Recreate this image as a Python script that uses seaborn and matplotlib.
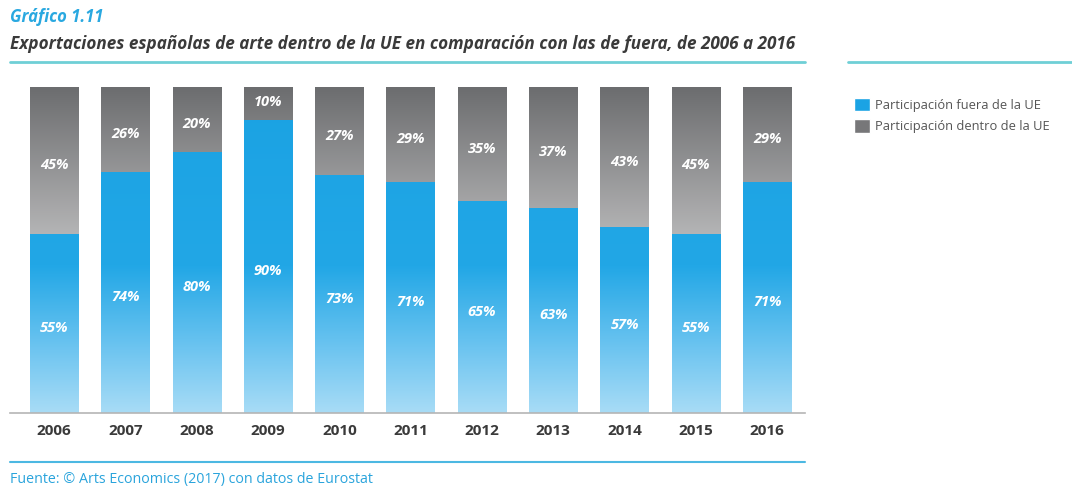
import numpy as np
import pandas as pd
import seaborn as sns
import matplotlib.pyplot as plt
from matplotlib.colors import to_rgba
from matplotlib.patches import Patch
from matplotlib.lines import Line2D

years = ["2006", "2007", "2008", "2009", "2010", "2011", "2012", "2013", "2014", "2015", "2016"]
fuera = [55, 74, 80, 90, 73, 71, 65, 63, 57, 55, 71]
dentro = [45, 26, 20, 10, 27, 29, 35, 37, 43, 45, 29]

df = pd.DataFrame({"year": years, "fuera": fuera, "dentro": dentro})
df["total"] = df["fuera"] + df["dentro"]

sns.set_style("white")
plt.rcParams['font.family'] = ['Open Sans', 'DejaVu Sans']

fig = plt.figure(figsize=(10.72, 4.88), dpi=100)
ax = fig.add_axes([10 / 1072, 75 / 488, 795 / 1072, 326 / 488])

# gray = total, blue on top of it
sns.barplot(data=df, x="year", y="total", color="#888888", width=0.68, ax=ax, saturation=1)
n_gray = len(ax.patches)
sns.barplot(data=df, x="year", y="fuera", color="#1ba3e4", width=0.68, ax=ax, saturation=1)
gray_bars = ax.patches[:n_gray]
blue_bars = ax.patches[n_gray:]


def grad(stops):
    ys = np.linspace(0, 100, 256)
    cols = np.zeros((256, 1, 4))
    pos = [s[0] for s in stops]
    rgba = [to_rgba(s[1]) for s in stops]
    for c in range(4):
        cols[:, 0, c] = np.interp(ys, pos, [r[c] for r in rgba])
    return cols


blue_img = grad([(0, "#a8dcf6"), (20, "#6cc4f0"), (45, "#22a7e6"), (100, "#1aa2e3")])
gray_img = grad([(0, "#cfcfcf"), (50, "#bcbcbd"), (100, "#6c6d6f")])

for bars, img, z in [(gray_bars, gray_img, 1), (blue_bars, blue_img, 2)]:
    for p in bars:
        x0 = p.get_x()
        x1 = x0 + p.get_width()
        im = ax.imshow(img, extent=[x0, x1, 0, 100], origin="lower", aspect="auto",
                       interpolation="bilinear", zorder=z)
        im.set_clip_path(p)
        p.set_facecolor("none")
        p.set_edgecolor("none")

lab_kw = dict(color="white", fontsize=10.5, fontweight="bold", fontstyle="italic",
              ha="center", va="center", zorder=5)
for i, (f, d) in enumerate(zip(fuera, dentro)):
    ax.text(i, f / 2 - 1.5, f"{f}%", **lab_kw)
    ax.text(i, f + d / 2 - 1.5 if d > 15 else f + d / 2 + 0.5, f"{d}%", **lab_kw)

ax.set_xlim(-0.62, 10.53)
ax.set_ylim(0, 100)
ax.set_xlabel("")
ax.set_ylabel("")
ax.set_yticks([])
for s in ["top", "right", "left"]:
    ax.spines[s].set_visible(False)
ax.spines["bottom"].set_color("#b5b5b5")
ax.spines["bottom"].set_linewidth(1.2)
ax.tick_params(axis="x", length=0, pad=8)
for t in ax.get_xticklabels():
    t.set_fontsize(11)
    t.set_fontweight("bold")
    t.set_color("#3a3a3a")

fig.text(10 / 1072, 1 - 17 / 488, "Gráfico 1.11", fontsize=12, fontweight="bold",
         fontstyle="italic", color="#29a8e0", va="center")
fig.text(10 / 1072, 1 - 44 / 488,
         "Exportaciones españolas de arte dentro de la UE en comparación con las de fuera, de 2006 a 2016",
         fontsize=12.3, fontweight="bold", fontstyle="italic", color="#3a3a3a", va="center")

fig.add_artist(Line2D([10 / 1072, 805 / 1072], [1 - 62 / 488] * 2, color="#6fcfd6", lw=2))
fig.add_artist(Line2D([848 / 1072, 1.0], [1 - 62 / 488] * 2, color="#6fcfd6", lw=2))
fig.add_artist(Line2D([10 / 1072, 805 / 1072], [1 - 462 / 488] * 2, color="#4cb8e2", lw=1.5))

fig.text(10 / 1072, 1 - 479 / 488, "Fuente: © Arts Economics (2017) con datos de Eurostat",
         fontsize=10.3, color="#2aa4dc", va="center")

handles = [Patch(facecolor="#1ba3e4", label="Participación fuera de la UE"),
           Patch(facecolor="#777779", label="Participación dentro de la UE")]
fig.legend(handles=handles, loc="upper left", bbox_to_anchor=(842 / 1072, 1 - 86 / 488),
           frameon=False, fontsize=9.3, handlelength=1.25, handleheight=1.25,
           handletextpad=0.4, labelspacing=0.55, labelcolor="#555555")

plt.savefig("out.png", dpi=100)
